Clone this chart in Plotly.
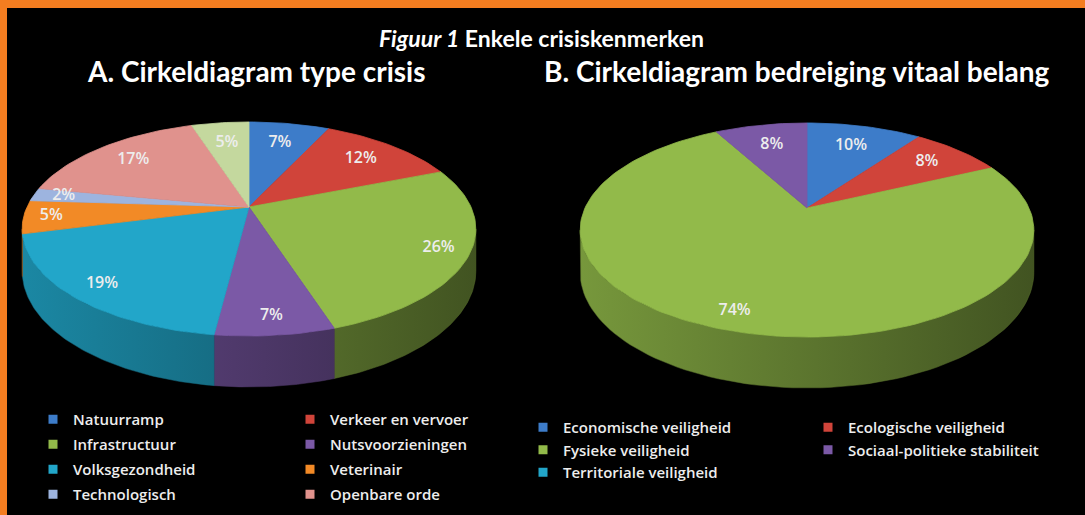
import numpy as np
import plotly.graph_objects as go

# ---------------- data ----------------
cats_a = ["Natuurramp", "Verkeer en vervoer", "Infrastructuur", "Nutsvoorzieningen",
          "Volksgezondheid", "Veterinair", "Technologisch", "Openbare orde", "Overig"]
vals_a = [7, 12, 26, 7, 19, 5, 2, 17, 5]
show_a = [True, True, True, True, True, True, True, True, False]

cats_b = ["Economische veiligheid", "Ecologische veiligheid", "Fysieke veiligheid",
          "Sociaal-politieke stabiliteit", "Territoriale veiligheid"]
vals_b = [10, 8, 74, 8, 0]
show_b = [True, True, True, True, True]

title_main = "<i>Figuur 1</i> Enkele crisiskenmerken"
title_a = "A. Cirkeldiagram type crisis"
title_b = "B. Cirkeldiagram bedreiging vitaal belang"

# ---------------- style ----------------
palette = ["#3D7CC9", "#D0443A", "#92BA4A", "#7B59A6", "#22A6C9",
           "#F28A26", "#9DB4DF", "#E0928D", "#C4D89E"]
W, H = 1085, 515
RX, RY, K, DEPTH = 222.0, 102.5, 0.2056, 40.5
CENTER_A = (249.0, 207.0)
CENTER_B = (807.0, 208.0)
TEXT_COLOR = "#EDEDED"
FONT = "Open Sans"
TITLE_FONT = "Lato"


def shade(hexcol, f):
    h = hexcol.lstrip("#")
    r, g, b = (int(h[i:i + 2], 16) for i in (0, 2, 4))
    return "rgb({},{},{})".format(int(r * f), int(g * f), int(b * f))


def proj(cx, cy, rho, th, drop=0.0):
    th = np.asarray(th, dtype=float)
    u = rho * np.sin(th)
    v = rho * np.cos(th)
    w = 1 + K * v
    return cx + RX * u / w, cy - RY * v / w + drop / w


FRONT0 = np.pi / 2 + np.arcsin(K)
FRONT1 = 3 * np.pi / 2 - np.arcsin(K)


def pie_traces(center, cats, vals, showlist, legend_ids):
    cx, cy = center
    total = float(sum(vals))
    sides, tops, labels = [], [], []
    cum = 0.0
    for i, (c, v) in enumerate(zip(cats, vals)):
        col = palette[i]
        t0 = 2 * np.pi * cum / total
        cum += v
        t1 = 2 * np.pi * cum / total
        grp = "{}_{}".format(legend_ids[0], i)
        if v > 0:
            # side wall (front visible part)
            a, b = max(t0, FRONT0), min(t1, FRONT1)
            if b > a:
                th = np.linspace(a, b, 80)
                xt, yt = proj(cx, cy, 1.0, th)
                xb, yb = proj(cx, cy, 1.0, th[::-1], DEPTH)
                sides.append(go.Scatter(
                    x=np.concatenate([xt, xb, xt[:1]]), y=np.concatenate([yt, yb, yt[:1]]),
                    mode="lines", fill="toself", line=dict(width=0.5, color=shade(col, 0.62)),
                    fillgradient=dict(type="horizontal", start=cx - 230, stop=cx + 230,
                                      colorscale=[[0, shade(col, 0.82)], [1, shade(col, 0.45)]]),
                    name=c, legendgroup=grp, showlegend=False, hoverinfo="skip"))
            # top face
            th = np.linspace(t0, t1, max(8, int(200 * v / total) + 4))
            xa, ya = proj(cx, cy, 1.0, th)
            tops.append(go.Scatter(
                x=np.concatenate([[cx], xa, [cx]]), y=np.concatenate([[cy], ya, [cy]]),
                mode="lines", fill="toself", fillcolor=col, line=dict(width=0.8, color=col),
                name=c, legendgroup=grp, showlegend=False,
                hoveron="fills", hoverinfo="text", text="{}: {}%".format(c, v)))
            mid = (t0 + t1) / 2
            uu, vv = np.sin(mid), np.cos(mid)
            rho = 0.73 + 0.15 * max(0.0, -vv) + 0.15 * abs(uu) * (1 - abs(vv))
            lx, ly = proj(cx, cy, rho, mid)
            labels.append((float(lx), float(ly), "{}%".format(round(100 * v / total))))
        # legend entry
        if showlist[i]:
            lg = legend_ids[i % 2]
            sides.append(go.Scatter(
                x=[None], y=[None], mode="markers",
                marker=dict(symbol="square", size=9, color=col, line=dict(width=0)),
                name=c, legendgroup=grp, legend=lg, showlegend=True, hoverinfo="skip"))
    lab = go.Scatter(
        x=[p[0] for p in labels], y=[p[1] for p in labels], text=[p[2] for p in labels],
        mode="text", textfont=dict(family=FONT, size=16, color=TEXT_COLOR, weight=600),
        showlegend=False, hoverinfo="skip")
    return sides, tops, lab


fig = go.Figure()
sa, ta, la = pie_traces(CENTER_A, cats_a, vals_a, show_a, ["legend", "legend2"])
sb, tb, lb = pie_traces(CENTER_B, cats_b, vals_b, show_b, ["legend3", "legend4"])
for tr in sa + sb + ta + tb + [la, lb]:
    fig.add_trace(tr)

leg_common = dict(xanchor="left", yanchor="top", bgcolor="rgba(0,0,0,0)",
                  font=dict(family=FONT, size=15, color=TEXT_COLOR, weight=600),
                  traceorder="grouped", orientation="v", itemclick=False, itemdoubleclick=False)

fig.update_layout(
    width=W, height=H, autosize=False,
    margin=dict(l=0, r=0, t=0, b=0),
    paper_bgcolor="#F47D20", plot_bgcolor="rgba(0,0,0,0)",
    xaxis=dict(range=[0, W], visible=False, fixedrange=True),
    yaxis=dict(range=[H, 0], visible=False, fixedrange=True),
    legend=dict(x=33 / W, y=1 - 403 / H, tracegroupgap=2.5, **leg_common),
    legend2=dict(x=290 / W, y=1 - 403 / H, tracegroupgap=2.5, **leg_common),
    legend3=dict(x=523 / W, y=1 - 411 / H, tracegroupgap=0, **leg_common),
    legend4=dict(x=808 / W, y=1 - 411 / H, tracegroupgap=0, **leg_common),
    shapes=[dict(type="rect", xref="paper", yref="paper", x0=7 / W, x1=1, y0=0, y1=1 - 8 / H,
                 fillcolor="#000000", line=dict(width=0), layer="below")],
    annotations=[
        dict(x=541, y=38, xref="x", yref="y", text=title_main, showarrow=False,
             font=dict(family=TITLE_FONT, size=23, color="#FFFFFF", weight="bold")),
        dict(x=256, y=71, xref="x", yref="y", text=title_a, showarrow=False,
             font=dict(family=TITLE_FONT, size=28, color="#FFFFFF", weight="bold")),
        dict(x=797, y=71, xref="x", yref="y", text=title_b, showarrow=False,
             font=dict(family=TITLE_FONT, size=28, color="#FFFFFF", weight="bold")),
    ],
    hovermode="closest",
)

fig.write_html("out.html", config={"displayModeBar": False},
               post_script="document.body.style.margin='0';")
